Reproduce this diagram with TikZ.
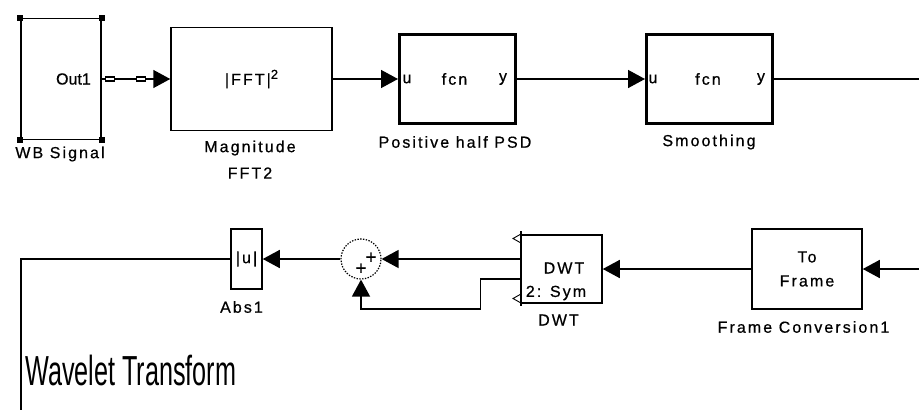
\documentclass[tikz,border=0pt]{standalone}
\usepackage{fontspec}
\usepackage{graphicx}
\setmainfont{Liberation Sans}[FakeBold=0.6]
\newfontfamily\lblfont{Liberation Sans}[LetterSpace=13,FakeBold=0.6]
\newfontfamily\plainfont{Liberation Sans}[FakeBold=0.6]
\newfontfamily\bigfont{Liberation Sans}
\usetikzlibrary{arrows.meta}
\begin{document}
\begin{tikzpicture}[x=1pt,y=-1pt,
  blk/.style={draw, line width=1.5pt, inner sep=0pt, align=center, font=\lblfont\fontsize{16}{24}\selectfont},
  fblk/.style={draw, line width=3pt, inner sep=0pt},
  txt/.style={inner sep=0pt, font=\lblfont\fontsize{16}{16}\selectfont},
  plain/.style={inner sep=0pt, font=\plainfont\fontsize{16}{16}\selectfont},
  wire/.style={line width=1.5pt},
  arr/.style={wire, -{Triangle[length=17pt,width=18pt]}},
  eqgap/.style={fill=white},
  eqbar/.style={fill=black},
  portmark/.style={draw, line width=0.9pt},
  cornermark/.style={fill=black},
]
\useasboundingbox (0,0) rectangle (919,410);

% --- top row blocks ---
\node[blk, minimum width=80pt, minimum height=121pt] (wb) at (61,79) {};
\foreach \c in {north west, north east, south west, south east}
  \fill[cornermark] (wb.\c) ++(-3,-3) rectangle ++(6,6);
\node[plain, anchor=east] (out1) at (91,79) {Out1};
\node[txt] (wbl) at (60,154) {WB Signal};

\node[blk, minimum width=161pt, minimum height=103pt] (fft) at (251.5,79) {|FFT|\raisebox{6pt}{\fontsize{13}{13}\selectfont 2}};
\node[txt] (fftl1) at (250,148) {Magnitude};
\node[txt] (fftl2) at (250,173) {FFT2};

\node[fblk, minimum width=116pt, minimum height=89pt] (psd) at (457.5,79) {};
\node[txt] (psdu) at (407,79) {u};
\node[txt] (psdf) at (454.5,79) {fcn};
\node[txt] (psdy) at (503,79) {y};
\node[txt] (psdl) at (455,142) {Positive half PSD};

\node[fblk, minimum width=126pt, minimum height=89pt] (smo) at (709.5,79) {};
\node[txt] (smou) at (653,79) {u};
\node[txt] (smof) at (708,79) {fcn};
\node[txt] (smoy) at (761,79) {y};
\node[txt] (smol) at (709,142) {Smoothing};

% --- bottom row blocks ---
\node[blk, minimum width=110pt, minimum height=80pt] (tofr) at (807,269) {To\\Frame};
\node[txt] (tofrl) at (803.5,327) {Frame Conversion1};

\node[blk, minimum width=81pt, minimum height=68pt] (dwt) at (561.5,269) {};
\draw[wire] (521,231) -- (521,306);
\node[txt] (dwtt) at (564,268) {DWT};
\node[txt] (dwts) at (556,293) {2: Sym};
\node[txt] (dwtl) at (558.5,320) {DWT};
\draw[portmark] (521,234) -- (513,238.5) -- (521,243);
\draw[portmark] (521,294) -- (513,298.5) -- (521,303);

\node[circle, draw, line width=1.2pt, dash pattern=on 1.4pt off 1.4pt, minimum size=40pt, inner sep=0pt] (sum) at (361,259) {};
\node[plain, font=\plainfont\fontsize{19}{19}\selectfont] (p1) at (371,258) {+};
\node[plain, font=\plainfont\fontsize{19}{19}\selectfont] (p2) at (361,269) {+};

\node[blk, minimum width=31pt, minimum height=60pt] (abs) at (246.5,259) {|u|};
\node[txt] (absl) at (241.5,307) {Abs1};

\node[inner sep=0pt, anchor=west, font=\bigfont\fontsize{42}{42}\selectfont] (wt) at (25,370) {\scalebox{0.6}[1]{Wavelet Transform}};

% --- connectors ---
\draw[arr] (wb.east) -- (fft.west);
\foreach \xx in {105,136} {
  \fill[eqgap] (\xx,78) rectangle ++(10,2);
  \fill[eqbar] (\xx,76) rectangle ++(10,2.2);
  \fill[eqbar] (\xx,80) rectangle ++(10,2.2);
  \fill[eqbar] (\xx,76) rectangle ++(1,6.2);
  \fill[eqbar] (\xx+9,76) rectangle ++(1,6.2);
}
\draw[arr] (fft.east) -- (psd.west);
\draw[arr] (psd.east) -- (smo.west);
\coordinate (r1) at (919,79);
\draw[wire] (smo.east) -- (r1);
\coordinate (r2) at (919,269);
\draw[arr] (r2) -- (tofr.east);
\draw[arr] (tofr.west) -- (dwt.east);
\draw[arr] (dwt.west |- sum.east) -- (sum.east);
\draw[arr] (dwt.west) ++(0,10) -- ++(-40,0) -- ++(0,30) -| (sum.south);
\draw[arr] (sum.west) -- (abs.east);
\coordinate (bl) at (21,410);
\draw[wire] (abs.west) -| (bl);
\end{tikzpicture}
\end{document}
